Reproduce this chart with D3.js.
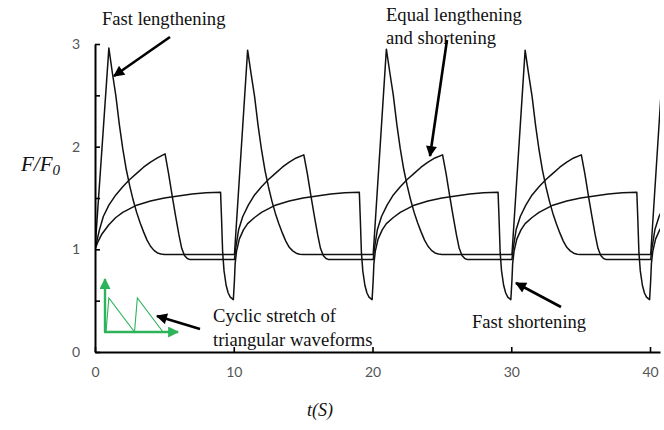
<!DOCTYPE html>
<html>
<head>
<meta charset="utf-8">
<script src="https://cdn.jsdelivr.net/npm/d3@7"></script>
<style>
  html, body { margin: 0; padding: 0; background: #fff; }
  svg { display: block; }
</style>
</head>
<body>
<svg id="chart" width="664" height="430"></svg>
<script>
// ---------- data ----------
const xTicks = [0, 10, 20, 30, 40];
const yTicks = [0, 1, 2, 3];
const yMinorTicks = [0.5, 1.5, 2.5];
const xDomain = [0, 40.72];
const yDomain = [0, 3];

// Fast lengthening (1 s lengthening, 9 s shortening)
const fastLengthening = [
  [0,1.00],[1.0,2.96],[1.25,2.72],[1.5,2.50],[1.75,2.22],[2.0,1.98],[2.25,1.78],[2.5,1.62],[2.75,1.48],[3.0,1.36],[3.25,1.26],[3.5,1.17],[3.75,1.09],[4.0,1.03],[4.25,0.99],[4.5,0.965],[4.75,0.955],[5.0,0.95],[10.05,0.95],
  [11.0,2.94],[11.25,2.71],[11.5,2.49],[11.75,2.21],[12.0,1.97],[12.25,1.77],[12.5,1.61],[12.75,1.47],[13.0,1.35],[13.25,1.25],[13.5,1.16],[13.75,1.08],[14.0,1.02],[14.25,0.985],[14.5,0.962],[14.75,0.953],[15.0,0.95],[20.05,0.95],
  [21.0,2.95],[21.25,2.72],[21.5,2.50],[21.75,2.22],[22.0,1.98],[22.25,1.78],[22.5,1.62],[22.75,1.48],[23.0,1.36],[23.25,1.26],[23.5,1.17],[23.75,1.09],[24.0,1.03],[24.25,0.99],[24.5,0.965],[24.75,0.955],[25.0,0.95],[30.05,0.95],
  [31.0,2.94],[31.25,2.71],[31.5,2.49],[31.75,2.21],[32.0,1.97],[32.25,1.77],[32.5,1.61],[32.75,1.47],[33.0,1.35],[33.25,1.25],[33.5,1.16],[33.75,1.08],[34.0,1.02],[34.25,0.985],[34.5,0.962],[34.75,0.953],[35.0,0.95],[40.05,0.95],
  [41.0,2.95]
];

// Equal lengthening and shortening (5 s / 5 s)
const equalLengthShort = [
  [0,1.00],[0.1,1.06],[0.3,1.18],[0.6,1.32],[1.0,1.43],[1.5,1.53],[2.0,1.61],[2.5,1.68],[3.0,1.74],[3.5,1.80],[4.0,1.85],[4.5,1.89],[5.05,1.93],[5.3,1.74],[5.55,1.53],[5.8,1.33],[6.05,1.14],[6.25,1.01],[6.45,0.94],[6.65,0.91],[6.85,0.90],[10.05,0.90],
  [10.15,1.02],[10.35,1.19],[10.65,1.32],[11.05,1.43],[11.5,1.53],[12.0,1.61],[12.5,1.68],[13.0,1.74],[13.5,1.80],[14.0,1.85],[14.5,1.89],[15.05,1.92],[15.3,1.74],[15.55,1.53],[15.8,1.33],[16.05,1.14],[16.25,1.01],[16.45,0.94],[16.65,0.91],[16.85,0.90],[20.05,0.90],
  [20.15,1.02],[20.35,1.19],[20.65,1.32],[21.05,1.43],[21.5,1.53],[22.0,1.61],[22.5,1.68],[23.0,1.74],[23.5,1.80],[24.0,1.85],[24.5,1.89],[25.05,1.92],[25.3,1.74],[25.55,1.53],[25.8,1.33],[26.05,1.14],[26.25,1.01],[26.45,0.94],[26.65,0.91],[26.85,0.90],[30.05,0.90],
  [30.15,1.02],[30.35,1.19],[30.65,1.32],[31.05,1.43],[31.5,1.53],[32.0,1.61],[32.5,1.68],[33.0,1.74],[33.5,1.80],[34.0,1.85],[34.5,1.89],[35.05,1.92],[35.3,1.74],[35.55,1.53],[35.8,1.33],[36.05,1.14],[36.25,1.01],[36.45,0.94],[36.65,0.91],[36.85,0.90],[40.05,0.90],
  [40.15,1.02],[40.35,1.19],[40.65,1.32],[41.05,1.43]
];

// Fast shortening (9 s lengthening, 1 s shortening)
const fastShortening = [
  [0,1.00],[0.2,1.07],[0.5,1.15],[1.0,1.24],[1.5,1.31],[2.0,1.36],[3.0,1.43],[4.0,1.47],[5.0,1.50],[6.0,1.52],[7.0,1.54],[8.0,1.55],[9.05,1.555],[9.12,1.30],[9.2,0.97],[9.3,0.79],[9.45,0.65],[9.6,0.575],[9.75,0.535],[9.97,0.51],
  [10.05,0.70],[10.1,0.86],[10.2,0.98],[10.4,1.10],[10.7,1.19],[11.0,1.25],[11.5,1.31],[12.0,1.36],[13.0,1.43],[14.0,1.47],[15.0,1.50],[16.0,1.52],[17.0,1.54],[18.0,1.55],[19.05,1.555],[19.12,1.30],[19.2,0.97],[19.3,0.79],[19.45,0.65],[19.6,0.575],[19.75,0.535],[19.97,0.51],
  [20.05,0.70],[20.1,0.86],[20.2,0.98],[20.4,1.10],[20.7,1.19],[21.0,1.25],[21.5,1.31],[22.0,1.36],[23.0,1.43],[24.0,1.47],[25.0,1.50],[26.0,1.52],[27.0,1.54],[28.0,1.55],[29.05,1.555],[29.12,1.30],[29.2,0.97],[29.3,0.79],[29.45,0.65],[29.6,0.575],[29.75,0.535],[29.97,0.51],
  [30.05,0.70],[30.1,0.86],[30.2,0.98],[30.4,1.10],[30.7,1.19],[31.0,1.25],[31.5,1.31],[32.0,1.36],[33.0,1.43],[34.0,1.47],[35.0,1.50],[36.0,1.52],[37.0,1.54],[38.0,1.55],[39.05,1.555],[39.12,1.30],[39.2,0.97],[39.3,0.79],[39.45,0.65],[39.6,0.575],[39.75,0.535],[39.97,0.51],
  [40.05,0.70],[40.1,0.86],[40.2,0.98],[40.4,1.10],[40.7,1.19],[41.0,1.25]
];

// Inset: schematic triangular stretch waveform (relative time / length)
const insetTime = [0, 0.1, 1.0, 1.1, 2.0];
const insetLength = [0, 1, 0, 1, 0];

// ---------- drawing ----------
const SERIF = "'Liberation Serif', 'Times New Roman', 'DejaVu Serif', serif";
const SANS = "Lato, 'Open Sans', sans-serif";
const GREEN = "#2db35a";
const svg = d3.select("#chart");

const x = d3.scaleLinear().domain(xDomain).range([95, 660]);
const y = d3.scaleLinear().domain(yDomain).range([352, 44]);

const defs = svg.append("defs");
defs.append("clipPath").attr("id", "plotclip")
  .append("rect").attr("x", 95).attr("y", 30).attr("width", 565).attr("height", 322);

function addMarker(id, color) {
  defs.append("marker").attr("id", id)
    .attr("viewBox", "0 0 10 10").attr("refX", 9).attr("refY", 5)
    .attr("markerUnits", "userSpaceOnUse")
    .attr("markerWidth", 12).attr("markerHeight", 11)
    .attr("orient", "auto")
    .append("path").attr("d", "M0,0 L10,5 L0,10 Z").attr("fill", color);
}
addMarker("arrowBlack", "#000");
addMarker("arrowGreen", GREEN);

const line = d3.line().x(d => x(d[0])).y(d => y(d[1])).curve(d3.curveLinear);

const curves = svg.append("g").attr("clip-path", "url(#plotclip)");
[fastLengthening, equalLengthShort, fastShortening].forEach(s => {
  curves.append("path").datum(s).attr("d", line)
    .attr("fill", "none").attr("stroke", "#111").attr("stroke-width", 1.5)
    .attr("stroke-linejoin", "round");
});

// axes
const xAxis = svg.append("g").attr("transform", "translate(0,352)")
  .call(d3.axisBottom(x).tickValues(xTicks).tickFormat(d3.format("d"))
    .tickSizeInner(-5).tickSizeOuter(0).tickPadding(15));
const yAxis = svg.append("g").attr("transform", "translate(95,0)")
  .call(d3.axisLeft(y).tickValues(yTicks).tickFormat(d3.format("d"))
    .tickSizeInner(-5).tickSizeOuter(0).tickPadding(15));
const yMinor = svg.append("g").attr("transform", "translate(95,0)")
  .call(d3.axisLeft(y).tickValues(yMinorTicks).tickSizeInner(-5).tickSizeOuter(0).tickFormat(""));
yMinor.select(".domain").remove();
svg.selectAll(".domain").attr("stroke", "#000").attr("stroke-width", 2);
svg.selectAll(".tick line").attr("stroke", "#000").attr("stroke-width", 1.6);
svg.selectAll(".tick text").attr("font-family", SANS).attr("font-size", 14).attr("fill", "#555");

// axis titles
const yl = svg.append("text").attr("x", 21).attr("y", 171)
  .style("font-family", SERIF).style("font-style", "italic").style("font-size", "21px").attr("fill", "#111");
yl.append("tspan").text("F/F");
yl.append("tspan").style("font-size", "15px").attr("dy", 4).text("0");
svg.append("text").attr("x", 320).attr("y", 416).attr("text-anchor", "middle")
  .style("font-family", SERIF).style("font-style", "italic").style("font-size", "18px").attr("fill", "#111")
  .text("t(S)");

// annotations
function ann(txt, xx, yy) {
  svg.append("text").attr("x", xx).attr("y", yy)
    .style("font-family", SERIF).style("font-size", "18.6px").attr("fill", "#111").text(txt);
}
function arrow(x1, y1, x2, y2, color, w, marker) {
  svg.append("line").attr("x1", x1).attr("y1", y1).attr("x2", x2).attr("y2", y2)
    .attr("stroke", color).attr("stroke-width", w).attr("marker-end", `url(#${marker})`);
}
ann("Fast lengthening", 102, 25);
arrow(170, 37, 114, 76, "#000", 2.6, "arrowBlack");
ann("Equal lengthening", 386, 21);
ann("and shortening", 386, 44);
arrow(447, 40, 430, 156, "#000", 2.6, "arrowBlack");
ann("Fast shortening", 472, 328);
arrow(561, 307, 516, 283, "#000", 2.6, "arrowBlack");
ann("Cyclic stretch of", 213, 322);
ann("triangular waveforms", 213, 346);
arrow(200, 329, 157, 316, "#000", 2.6, "arrowBlack");

// inset schematic
const ix = d3.scaleLinear().domain([0, 2]).range([106, 163]);
const iy = d3.scaleLinear().domain([0, 1]).range([332, 298]);
const inset = svg.append("g");
inset.append("path").datum(d3.zip(insetTime, insetLength))
  .attr("d", d3.line().x(d => ix(d[0])).y(d => iy(d[1])))
  .attr("fill", "none").attr("stroke", GREEN).attr("stroke-width", 1.1);
arrow(105, 332, 105, 279, GREEN, 2.4, "arrowGreen");
arrow(104, 332, 178, 332, GREEN, 2.4, "arrowGreen");
</script>
</body>
</html>
